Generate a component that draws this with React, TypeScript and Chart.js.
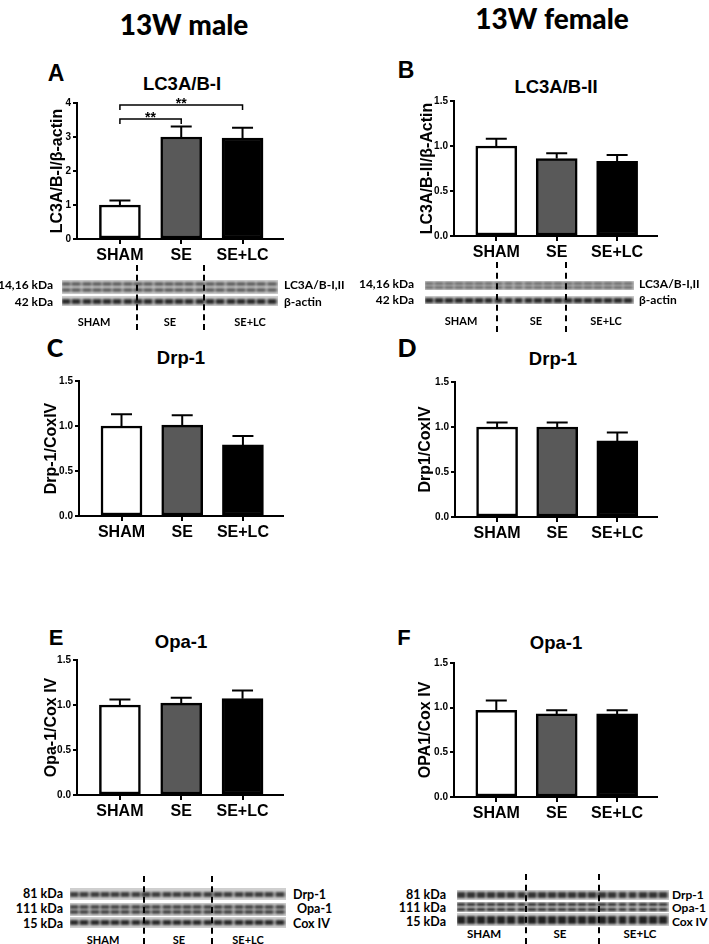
import React, { useEffect, useRef } from 'react';
import { Chart, registerables } from 'chart.js';
Chart.register(...registerables);

const FONT = "'Liberation Sans', Arial, sans-serif";
const CAL = "Lato, 'Open Sans', sans-serif";

const categories = ['SHAM', 'SE', 'SE+LC'];
const barColors = ['#ffffff', '#595959', '#000000'];

const lc3IMean = [1.0, 3.0, 2.97];
const lc3ISem = [0.13, 0.31, 0.3];
const lc3IIMean = [1.0, 0.86, 0.83];
const lc3IISem = [0.08, 0.06, 0.07];
const drp1MaleMean = [1.0, 1.01, 0.79];
const drp1MaleSem = [0.13, 0.11, 0.1];
const drp1FemaleMean = [1.0, 1.0, 0.845];
const drp1FemaleSem = [0.05, 0.05, 0.095];
const opa1MaleMean = [1.0, 1.02, 1.07];
const opa1MaleSem = [0.06, 0.06, 0.09];
const opa1FemaleMean = [0.97, 0.93, 0.93];
const opa1FemaleSem = [0.11, 0.04, 0.04];

const yTicksA = [0, 1, 2, 3, 4];
const yTicks15 = [0, 0.5, 1.0, 1.5];

const sigA = [
  { from: 0, to: 1, y: 3.53, label: '**' },
  { from: 0, to: 2, y: 3.94, label: '**' },
];

const errorBarPlugin = {
  id: 'errorBars',
  afterDatasetsDraw(chart: any, _args: any, opts: any) {
    const meta = chart.getDatasetMeta(0);
    const ys = chart.scales.y;
    const ctx = chart.ctx;
    const ds = chart.data.datasets[0].data;
    ctx.save();
    ctx.strokeStyle = '#000';
    ctx.lineWidth = 2;
    meta.data.forEach((el: any, i: number) => {
      const v = ds[i].y;
      const top = ys.getPixelForValue(v + opts.sem[i]);
      ctx.beginPath();
      ctx.moveTo(el.x, el.y);
      ctx.lineTo(el.x, top);
      ctx.moveTo(el.x - 10.5, top);
      ctx.lineTo(el.x + 10.5, top);
      ctx.stroke();
    });
    ctx.restore();
  },
};

const sigPlugin = {
  id: 'sigBrackets',
  afterDraw(chart: any, _args: any, opts: any) {
    const items = opts.items || [];
    if (!items.length) return;
    const xs = chart.scales.x;
    const ys = chart.scales.y;
    const ctx = chart.ctx;
    ctx.save();
    ctx.strokeStyle = '#000';
    ctx.fillStyle = '#000';
    ctx.lineWidth = 1.5;
    items.forEach((it: any) => {
      const x1 = xs.getPixelForValue(it.from);
      const x2 = xs.getPixelForValue(it.to);
      const y = ys.getPixelForValue(it.y);
      ctx.beginPath();
      ctx.moveTo(x1, y + 5);
      ctx.lineTo(x1, y);
      ctx.lineTo(x2, y);
      ctx.lineTo(x2, y + 5);
      ctx.stroke();
      ctx.font = `bold 14px ${FONT}`;
      ctx.textAlign = 'center';
      ctx.textBaseline = 'alphabetic';
      ctx.fillText(it.label, (x1 + x2) / 2, y + 3);
    });
    ctx.restore();
  },
};

type PanelProps = {
  axisX: number; topY: number; bottomY: number; rightX: number;
  mean: number[]; sem: number[]; yMax: number; yTicks: number[]; dec: number;
  yTitle: string; titleOffset: number; sig?: any[];
};

function BarPanel(p: PanelProps) {
  const ref = useRef<HTMLCanvasElement | null>(null);
  const padTop = 30, padRight = 10, yW = 60, xH = 32;
  const left = p.axisX - yW;
  const top = p.topY - padTop;
  const width = p.rightX - left + padRight;
  const height = p.bottomY - top + xH;
  useEffect(() => {
    const chart = new Chart(ref.current as HTMLCanvasElement, {
      type: 'bar',
      data: {
        datasets: [{
          data: p.mean.map((v, i) => ({ x: i, y: v })),
          backgroundColor: barColors,
          borderColor: '#000',
          borderWidth: 2.5,
          borderSkipped: false,
          barThickness: 41,
        } as any],
      },
      options: {
        animation: false,
        responsive: false,
        maintainAspectRatio: false,
        layout: { padding: { top: padTop, right: padRight, left: 0, bottom: 0 } },
        plugins: {
          legend: { display: false },
          tooltip: { enabled: false },
          errorBars: { sem: p.sem },
          sigBrackets: { items: p.sig || [] },
        } as any,
        scales: {
          x: {
            type: 'linear', min: -0.7, max: 2.66, offset: false, bounds: 'data',
            afterBuildTicks: (s: any) => { s.ticks = categories.map((_, i) => ({ value: i })); },
            afterFit: (s: any) => { s.height = xH; },
            ticks: {
              callback: (v: any) => categories[Math.round(v)] ?? '',
              color: '#000', font: { family: FONT, size: 16, weight: 'bold' },
              padding: 2, maxRotation: 0, autoSkip: false,
            },
            grid: { display: true, drawOnChartArea: false, drawTicks: true, tickLength: 5, color: '#000', lineWidth: 2, offset: false },
            border: { display: true, color: '#000', width: 2 },
          },
          y: {
            type: 'linear', min: 0, max: p.yMax, bounds: 'data',
            afterBuildTicks: (s: any) => { s.ticks = p.yTicks.map((v) => ({ value: v })); },
            afterFit: (s: any) => { s.width = yW; },
            ticks: {
              callback: (v: any) => Number(v).toFixed(p.dec),
              color: '#000', font: { family: FONT, size: 10, weight: 'bold' }, padding: 2,
            },
            grid: { display: true, drawOnChartArea: false, drawTicks: true, tickLength: 4, color: '#000', lineWidth: 2 },
            border: { display: true, color: '#000', width: 2 },
            title: {
              display: true, text: p.yTitle, color: '#000',
              font: { family: FONT, size: 16, weight: 'bold', lineHeight: 1.2 },
              padding: { top: yW - p.titleOffset - 9.6, bottom: 0 },
            },
          },
        } as any,
      },
      plugins: [errorBarPlugin, sigPlugin],
    });
    return () => chart.destroy();
  }, []);
  return (
    <canvas ref={ref} width={width} height={height}
      style={{ position: 'absolute', left, top, width, height }} />
  );
}

function Txt({ x, y, text, size, family = FONT, align = 'center', weight = 700 }: any) {
  const tx = align === 'center' ? '-50%' : align === 'right' ? '-100%' : '0';
  return (
    <div style={{
      position: 'absolute', left: x, top: y, transform: `translate(${tx}, -50%)`,
      fontFamily: family, fontSize: size, fontWeight: weight, lineHeight: 1,
      whiteSpace: 'nowrap', color: '#000',
    }}>{text}</div>
  );
}

function Dash({ x, y1, y2 }: any) {
  return <div style={{ position: 'absolute', left: x - 1, top: y1, width: 0, height: y2 - y1, borderLeft: '2px dashed #000' }} />;
}

function BlotRow({ x, y, w, h, band, dark = 0.85, double = false }: any) {
  const lane = w / 21;
  const grad = `repeating-linear-gradient(90deg, rgba(25,25,25,${dark}) 0px, rgba(25,25,25,${dark}) ${lane * 0.78}px, rgba(110,110,110,0.55) ${lane * 0.78}px, rgba(110,110,110,0.55) ${lane}px)`;
  const bands = double
    ? [{ t: h * 0.12, hh: h * 0.32 }, { t: h * 0.55, hh: h * 0.32 }]
    : [{ t: (h - band) / 2, hh: band }];
  return (
    <div style={{ position: 'absolute', left: x, top: y, width: w, height: h, background: '#cfcfcf', overflow: 'hidden' }}>
      {bands.map((b, i) => (
        <div key={i} style={{ position: 'absolute', left: 0, top: b.t, width: w, height: b.hh, background: grad, filter: 'blur(0.9px)' }} />
      ))}
    </div>
  );
}

export default function App() {
  return (
    <div style={{ position: 'absolute', left: 0, top: 0, width: 709, height: 944, background: '#fff', overflow: 'hidden' }}>
      <Txt x={184} y={24} text="13W male" size={28} family={CAL} weight={900} />
      <Txt x={552} y={18} text="13W female" size={28} family={CAL} weight={900} />

      <Txt x={56} y={73} text="A" size={23} />
      <Txt x={182} y={84} text="LC3A/B-I" size={18.5} />
      <Txt x={406} y={70} text="B" size={23} />
      <Txt x={556} y={87} text="LC3A/B-II" size={18.5} />
      <Txt x={55} y={347} text="C" size={25} family={CAL} weight={900} />
      <Txt x={181} y={358} text="Drp-1" size={18.5} />
      <Txt x={407} y={347} text="D" size={25} family={CAL} weight={900} />
      <Txt x={553} y={359} text="Drp-1" size={18.5} />
      <Txt x={56} y={638} text="E" size={22} />
      <Txt x={181} y={642} text="Opa-1" size={18.5} />
      <Txt x={404} y={638} text="F" size={22} />
      <Txt x={556} y={643} text="Opa-1" size={18.5} />

      <BarPanel axisX={77} topY={103} bottomY={239} rightX={283} mean={lc3IMean} sem={lc3ISem}
        yMax={4} yTicks={yTicksA} dec={0} yTitle="LC3A/B-I/β-actin" titleOffset={19} sig={sigA} />
      <BarPanel axisX={454} topY={101} bottomY={236} rightX={657} mean={lc3IIMean} sem={lc3IISem}
        yMax={1.5} yTicks={yTicks15} dec={1} yTitle="LC3A/B-II/β-Actin" titleOffset={26} />
      <BarPanel axisX={79} topY={381} bottomY={516} rightX={283} mean={drp1MaleMean} sem={drp1MaleSem}
        yMax={1.5} yTicks={yTicks15} dec={1} yTitle="Drp-1/CoxIV" titleOffset={27} />
      <BarPanel axisX={455} topY={382} bottomY={517} rightX={657} mean={drp1FemaleMean} sem={drp1FemaleSem}
        yMax={1.5} yTicks={yTicks15} dec={1} yTitle="Drp1/CoxIV" titleOffset={29} />
      <BarPanel axisX={77} topY={660} bottomY={795} rightX={283} mean={opa1MaleMean} sem={opa1MaleSem}
        yMax={1.5} yTicks={yTicks15} dec={1} yTitle="Opa-1/Cox IV" titleOffset={25} />
      <BarPanel axisX={454} topY={663} bottomY={797} rightX={657} mean={opa1FemaleMean} sem={opa1FemaleSem}
        yMax={1.5} yTicks={yTicks15} dec={1} yTitle="OPA1/Cox IV" titleOffset={28} />

      {/* Blot A */}
      <BlotRow x={62} y={280} w={216} h={14} double dark={0.6} />
      <BlotRow x={62} y={296} w={216} h={10} band={5} dark={0.9} />
      <Dash x={137} y1={265} y2={330} />
      <Dash x={204} y1={265} y2={330} />
      <Txt x={53} y={285} text="14,16 kDa" size={12} family={CAL} align="right" />
      <Txt x={53} y={302} text="42 kDa" size={12} family={CAL} align="right" />
      <Txt x={284} y={285} text="LC3A/B-I,II" size={12} family={CAL} align="left" />
      <Txt x={284} y={302} text="β-actin" size={12} family={CAL} align="left" />
      <Txt x={94} y={321} text="SHAM" size={11} family={CAL} />
      <Txt x={170} y={321} text="SE" size={11} family={CAL} />
      <Txt x={250} y={321} text="SE+LC" size={11} family={CAL} />

      {/* Blot B */}
      <BlotRow x={425} y={281} w={209} h={9} double dark={0.55} />
      <BlotRow x={425} y={296} w={209} h={8} band={5} dark={0.9} />
      <Dash x={497} y1={262} y2={332} />
      <Dash x={566} y1={262} y2={332} />
      <Txt x={414} y={284} text="14,16 kDa" size={12} family={CAL} align="right" />
      <Txt x={414} y={300} text="42 kDa" size={12} family={CAL} align="right" />
      <Txt x={639} y={284} text="LC3A/B-I,II" size={12} family={CAL} align="left" />
      <Txt x={639} y={300} text="β-actin" size={12} family={CAL} align="left" />
      <Txt x={461} y={320} text="SHAM" size={11} family={CAL} />
      <Txt x={536} y={320} text="SE" size={11} family={CAL} />
      <Txt x={606} y={320} text="SE+LC" size={11} family={CAL} />

      {/* Blot E */}
      <BlotRow x={70} y={888} w={216} h={12} band={5} dark={0.8} />
      <BlotRow x={70} y={903} w={216} h={13} double dark={0.75} />
      <BlotRow x={70} y={917} w={216} h={11} band={5} dark={0.9} />
      <Dash x={144} y1={876} y2={944} />
      <Dash x={212} y1={876} y2={944} />
      <Txt x={63} y={894} text="81 kDa" size={12.5} family={CAL} align="right" />
      <Txt x={63} y={909} text="111 kDa" size={12.5} family={CAL} align="right" />
      <Txt x={63} y={924} text="15 kDa" size={12.5} family={CAL} align="right" />
      <Txt x={293} y={895} text="Drp-1" size={12.5} family={CAL} align="left" />
      <Txt x={297} y={909} text="Opa-1" size={12.5} family={CAL} align="left" />
      <Txt x={293} y={924} text="Cox IV" size={12.5} family={CAL} align="left" />
      <Txt x={103} y={939} text="SHAM" size={11} family={CAL} />
      <Txt x={179} y={939} text="SE" size={11} family={CAL} />
      <Txt x={248} y={939} text="SE+LC" size={11} family={CAL} />

      {/* Blot F */}
      <BlotRow x={457} y={890} w={212} h={10} band={6} dark={0.85} />
      <BlotRow x={457} y={902} w={212} h={10} double dark={0.9} />
      <BlotRow x={457} y={913} w={212} h={13} band={8} dark={0.95} />
      <Dash x={526} y1={874} y2={944} />
      <Dash x={599} y1={874} y2={944} />
      <Txt x={446} y={895} text="81 kDa" size={12.5} family={CAL} align="right" />
      <Txt x={446} y={908} text="111 kDa" size={12.5} family={CAL} align="right" />
      <Txt x={446} y={922} text="15 kDa" size={12.5} family={CAL} align="right" />
      <Txt x={672} y={895} text="Drp-1" size={12} family={CAL} align="left" />
      <Txt x={672} y={908} text="Opa-1" size={12} family={CAL} align="left" />
      <Txt x={672} y={922} text="Cox IV" size={12} family={CAL} align="left" />
      <Txt x={484} y={934} text="SHAM" size={11.5} family={CAL} />
      <Txt x={560} y={934} text="SE" size={11.5} family={CAL} />
      <Txt x={640} y={934} text="SE+LC" size={11.5} family={CAL} />
    </div>
  );
}
